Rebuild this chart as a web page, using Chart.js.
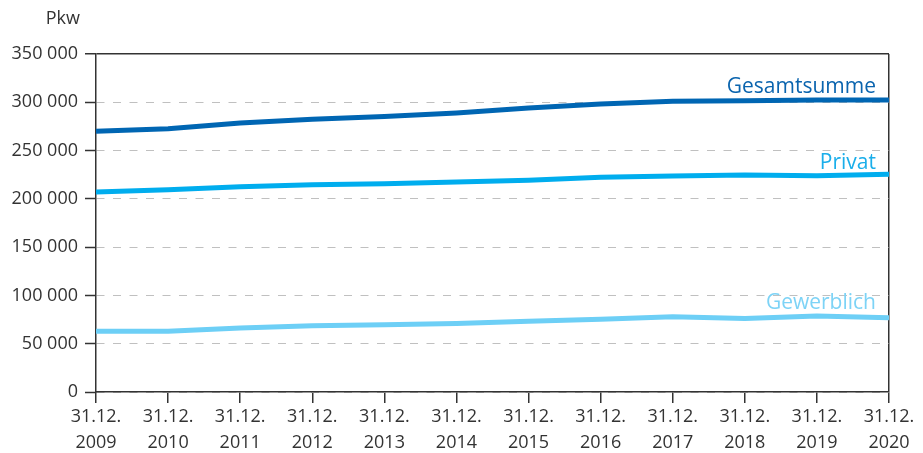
<!DOCTYPE html>
<html>
<head>
<meta charset="utf-8">
<script src="https://cdn.jsdelivr.net/npm/chart.js@4"></script>
<style>
  html, body { margin: 0; padding: 0; background: #fff; }
</style>
</head>
<body>
<canvas id="pkwChart" width="923" height="453"></canvas>
<script>
// Stichtage
const years = [2009, 2010, 2011, 2012, 2013, 2014, 2015, 2016, 2017, 2018, 2019, 2020];

// Bestand Pkw
const gesamtsumme = [270000, 272500, 278500, 282500, 285300, 289000, 294000, 298300, 301000, 301600, 302300, 302300];
const privat      = [207000, 209500, 212500, 214500, 215700, 217500, 219300, 222300, 223700, 224800, 223800, 225600];
const gewerblich  = [62800, 63000, 66200, 68500, 69700, 71000, 73300, 75400, 77800, 76200, 78800, 77000];

const yTicks = [0, 50000, 100000, 150000, 200000, 250000, 300000, 350000];

const axisColor = '#333333';
const gridColor = '#c0c0c0';
const textColor = '#333333';
const fontFamily = '"Open Sans", "Noto Sans", sans-serif';

function formatNumber(v) {
    return String(v).replace(/\B(?=(\d{3})+(?!\d))/g, ' ');
}

// Serienbeschriftung am rechten Ende der Linie
const endLabels = {
    id: 'endLabels',
    afterDatasetsDraw(chart) {
        const ctx = chart.ctx;
        ctx.save();
        ctx.font = '21px ' + fontFamily;
        ctx.textAlign = 'right';
        ctx.textBaseline = 'alphabetic';
        chart.data.datasets.forEach((ds, i) => {
            const meta = chart.getDatasetMeta(i);
            const last = meta.data[meta.data.length - 1];
            ctx.fillStyle = ds.labelColor;
            ctx.fillText(ds.label, last.x - 13, last.y - ds.labelGap);
        });
        // Einheit oben links
        const y = chart.scales.y;
        ctx.font = '18px ' + fontFamily;
        ctx.fillStyle = textColor;
        ctx.textBaseline = 'middle';
        ctx.fillText('Pkw', y.right - 16, 19);
        ctx.restore();
    }
};

const ctx = document.getElementById('pkwChart').getContext('2d');
new Chart(ctx, {
    type: 'line',
    data: {
        labels: years.map(y => ['31.12.', String(y)]),
        datasets: [{
            label: 'Gesamtsumme',
            data: gesamtsumme,
            borderColor: '#0066b3',
            labelColor: '#0a64ae',
            labelGap: 7
        }, {
            label: 'Privat',
            data: privat,
            borderColor: '#00adee',
            labelColor: '#1aaeea',
            labelGap: 5
        }, {
            label: 'Gewerblich',
            data: gewerblich,
            borderColor: '#6dcff6',
            labelColor: '#7dd3f6',
            labelGap: 9
        }]
    },
    options: {
        responsive: false,
        animation: false,
        devicePixelRatio: 1,
        layout: { padding: { top: 54, right: 34, bottom: 0, left: 0 } },
        elements: {
            point: { radius: 0 },
            line: { borderWidth: 5, tension: 0, borderCapStyle: 'butt', borderJoinStyle: 'round', fill: false }
        },
        plugins: {
            legend: { display: false },
            tooltip: { enabled: false }
        },
        scales: {
            x: {
                offset: false,
                afterFit: s => { s.height = 61; },
                grid: {
                    drawOnChartArea: true,
                    color: c => (c.index === years.length - 1 ? axisColor : 'rgba(0,0,0,0)'),
                    lineWidth: 1.5,
                    tickColor: axisColor,
                    tickLength: 11,
                    tickWidth: 1.5
                },
                border: { color: axisColor, width: 1.5 },
                ticks: {
                    color: textColor,
                    font: { family: fontFamily, size: 18, lineHeight: '26px' },
                    padding: 1,
                    maxRotation: 0,
                    autoSkip: false
                }
            },
            y: {
                min: 0,
                max: 350000,
                afterFit: s => { s.width = 96; },
                afterBuildTicks: s => { s.ticks = yTicks.map(v => ({ value: v })); },
                grid: {
                    color: c => (c.tick && c.tick.value === 350000 ? axisColor : gridColor),
                    lineWidth: c => (c.tick && c.tick.value === 350000 ? 1.5 : 1),
                    tickColor: axisColor,
                    tickLength: 11,
                    tickWidth: 1.5,
                    tickBorderDash: []
                },
                border: {
                    color: axisColor,
                    width: 1.5,
                    dash: c => (c.tick && c.tick.value === 350000 ? [] : [8, 8.5])
                },
                ticks: {
                    color: textColor,
                    font: { family: fontFamily, size: 18 },
                    padding: 7,
                    callback: v => formatNumber(v)
                }
            }
        }
    },
    plugins: [endLabels]
});
</script>
</body>
</html>
